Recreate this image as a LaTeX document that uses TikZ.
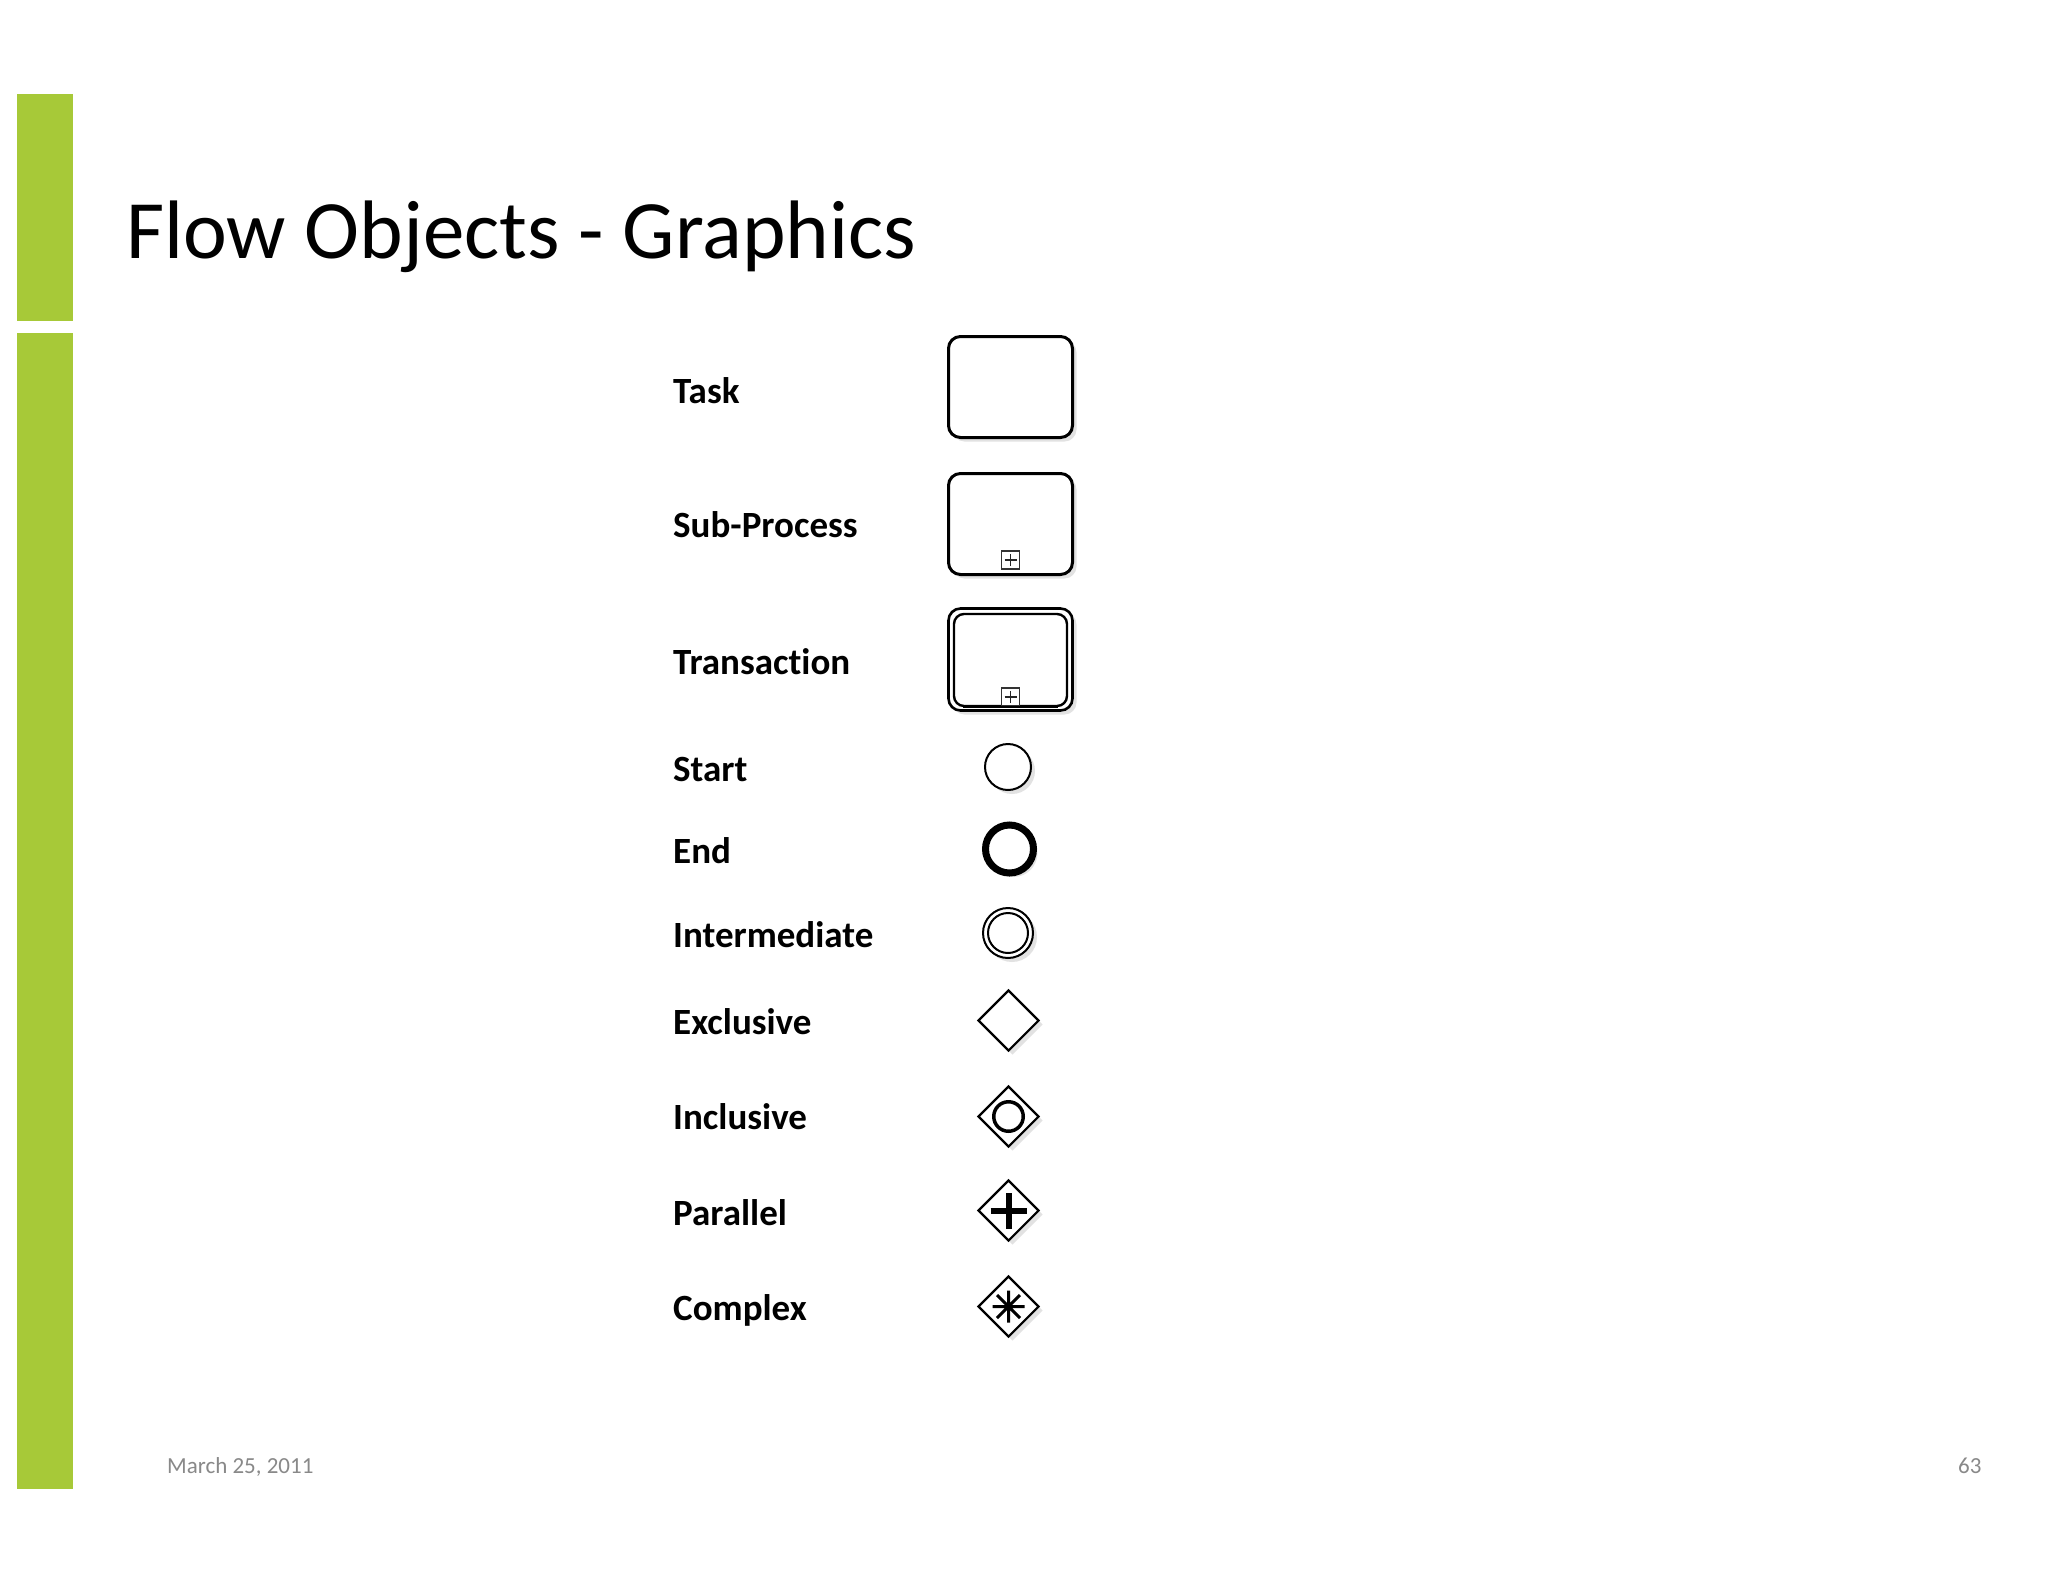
\documentclass[tikz,border=0pt]{standalone}
\usepackage{fontspec}
\setmainfont{Carlito}[Ligatures=CommonOff]
\usetikzlibrary{shapes.geometric,shadows}
\definecolor{barg}{RGB}{167,201,56}
\definecolor{footg}{RGB}{137,137,137}
\tikzset{
  lbl/.style={anchor=base west, inner sep=0pt, font=\bfseries\fontsize{37}{44}\selectfont},
  shad/.style={drop shadow={shadow xshift=4pt, shadow yshift=-4pt, fill=black!22}},
  taskbox/.style={draw, fill=white, line width=3pt, rounded corners=12pt, minimum width=124pt, minimum height=101pt, inner sep=0pt, shad},
  plusbox/.style={draw=black!80, fill=white, line width=1.5pt, minimum width=18pt, minimum height=18pt, inner sep=0pt},
  plusline/.style={draw=black!85, line width=1.6pt},
  evt/.style={circle, draw, fill=white, inner sep=0pt, shad},
  gw/.style={diamond, draw, fill=white, line width=2.2pt, minimum width=61pt, minimum height=61pt, inner sep=0pt, shad},
  foot/.style={anchor=base west, inner sep=0pt, text=footg, font=\fontsize{23}{28}\selectfont}
}
\begin{document}
\begin{tikzpicture}[x=1pt,y=-1pt]
\useasboundingbox[fill=white] (0,0) rectangle (2048,1582);
% green bars
\fill[barg] (17,94) rectangle (73,321);
\fill[barg] (17,333) rectangle (73,1489);
% title
\node[anchor=base west, inner sep=0pt, font=\fontsize{83}{100}\selectfont] (title) at (126,258) {Flow Objects - Graphics};
% labels
\node[lbl] (lTask) at (673,403) {Task};
\node[lbl] (lSub) at (673,537) {Sub-Process};
\node[lbl] (lTrans) at (673,674) {Transaction};
\node[lbl] (lStart) at (673,781) {Start};
\node[lbl] (lEnd) at (673,863) {End};
\node[lbl] (lInter) at (673,947) {Intermediate};
\node[lbl] (lExcl) at (673,1034) {Exclusive};
\node[lbl] (lIncl) at (673,1129) {Inclusive};
\node[lbl] (lPar) at (673,1225) {Parallel};
\node[lbl] (lCompl) at (673,1320) {Complex};
% task
\node[taskbox] (task) at (1010.5,387) {};
% sub-process
\node[taskbox] (sub) at (1010.5,524) {};
\node[plusbox] (subplus) at (1010.5,560) {};
\draw[plusline] ([xshift=-6pt]subplus.center) -- ([xshift=6pt]subplus.center)
  ([yshift=-6pt]subplus.center) -- ([yshift=6pt]subplus.center);
% transaction
\node[taskbox, line width=2.6pt, minimum height=102pt] (trans) at (1010.5,659.5) {};
\node[draw, line width=2.4pt, rounded corners=10pt, minimum width=113pt, minimum height=92pt, inner sep=0pt] (transin) at (1010.5,660) {};
\node[plusbox] (transplus) at (1010.5,697) {};
\draw[plusline] ([xshift=-6pt]transplus.center) -- ([xshift=6pt]transplus.center)
  ([yshift=-6pt]transplus.center) -- ([yshift=6pt]transplus.center);
\draw[line width=2.4pt] (transin.south west) ++(10,0) -- ([xshift=-10pt]transin.south east);
% events
\node[evt, line width=2pt, minimum size=46pt] (start) at (1008,767) {};
\node[evt, line width=7pt, minimum size=48pt] (end) at (1009.5,849) {};
\node[evt, line width=2pt, minimum size=50pt] (inter) at (1008,933) {};
\node[circle, draw, line width=2pt, minimum size=40pt, inner sep=0pt] (interin) at (1008,933) {};
% gateways
\node[gw] (excl) at (1008.5,1020.5) {};
\node[gw] (incl) at (1008.5,1116.5) {};
\node[circle, draw, line width=3.5pt, minimum size=29.5pt, inner sep=0pt] (inclc) at (1008.5,1116.5) {};
\node[gw] (par) at (1008.5,1210.5) {};
\draw[line width=6pt] ([xshift=-18pt]par.center) -- ([xshift=18pt]par.center)
  ([yshift=-18pt]par.center) -- ([yshift=18pt]par.center);
\node[gw] (compl) at (1008.5,1306.5) {};
\draw[line width=3pt] ([xshift=-16pt]compl.center) -- ([xshift=16pt]compl.center)
  ([yshift=-16pt]compl.center) -- ([yshift=16pt]compl.center)
  ([shift={(-11.5pt,-11.5pt)}]compl.center) -- ([shift={(11.5pt,11.5pt)}]compl.center)
  ([shift={(-11.5pt,11.5pt)}]compl.center) -- ([shift={(11.5pt,-11.5pt)}]compl.center);
% footer
\node[foot] (date) at (167,1473) {March 25, 2011};
\node[foot] (page) at (1958,1473) {63};
\end{tikzpicture}
\end{document}
